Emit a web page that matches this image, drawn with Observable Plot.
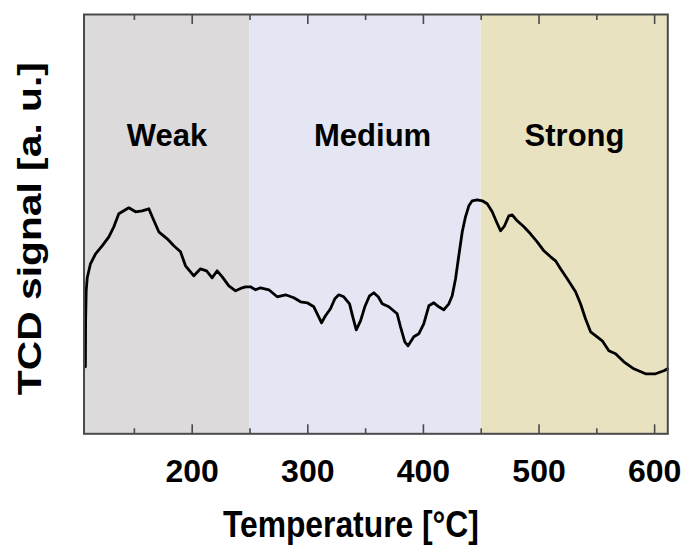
<!DOCTYPE html>
<html>
<head>
<meta charset="utf-8">
<script src="https://cdn.jsdelivr.net/npm/d3@7"></script>
<script src="https://cdn.jsdelivr.net/npm/@observablehq/plot@0.6"></script>
<style>
  html, body { margin: 0; padding: 0; background: #fff; }
</style>
</head>
<body>
<div id="chart"></div>
<script>
// TPD trace: temperature (°C) and TCD signal (arbitrary units)
const temperature = [
  107.6, 107.8, 108.3, 109.2, 112.0, 116.4, 122.1, 127.9, 132.2, 136.5,
  140.8, 145.2, 151.0, 156.7, 162.5, 165.4, 171.1, 178.4, 184.1, 189.9,
  194.2, 201.4, 207.2, 212.4, 217.3, 221.6, 226.0, 231.7, 237.5, 243.3,
  246.1, 250.4, 254.8, 259.1, 266.3, 273.5, 280.7, 287.9, 293.7, 299.5,
  305.2, 309.0, 311.9, 315.3, 319.6, 323.4, 326.8, 331.1, 336.1, 338.9,
  341.9, 345.6, 349.3, 353.4, 357.1, 360.9, 364.4, 370.1, 377.3, 380.2,
  383.9, 386.7, 391.7, 396.0, 400.3, 404.7, 409.0, 413.3, 417.6, 422.0,
  424.9, 427.8, 430.6, 433.6, 436.4, 439.3, 442.2, 446.5, 450.9, 455.2,
  459.5, 463.2, 466.7, 470.2, 473.9, 476.8, 481.1, 486.9, 492.6, 498.4,
  504.2, 510.0, 514.3, 518.6, 524.4, 531.6, 535.9, 540.2, 544.6, 550.3,
  554.7, 560.4, 566.2, 573.4, 582.0, 592.1, 600.8, 608.0, 611.2
];
const signal = [
  67, 113, 143, 156, 170, 180, 188, 197, 207, 220,
  223, 226, 222, 223, 225, 217, 202, 195, 188, 182,
  168, 158, 165, 163, 156, 163, 157, 148, 143, 146,
  147, 147, 144, 146, 144, 137, 139, 136, 132, 131,
  127, 118, 111, 118, 125, 135, 139, 137, 130, 117,
  104, 113, 127, 138, 141, 137, 130, 127, 120, 107,
  92, 88, 97, 100, 110, 128, 131, 127, 124, 130,
  138, 155, 178, 202, 217, 228, 233, 234, 233, 230,
  222, 212, 203, 208, 218, 219, 213, 207, 200, 192,
  183, 177, 173, 165, 155, 142, 130, 115, 102, 97,
  93, 83, 80, 72, 65, 60, 60, 63, 65
];

// Acid-site strength regions
const bandNames = ["Weak", "Medium", "Strong"];
const bandStart = [106.4, 250, 450];
const bandEnd = [250, 450, 611.4];
const bandColors = ["#dcdadb", "#e5e6f4", "#e8e2c0"];

// Axis ticks
const majorTicks = [200, 300, 400, 500, 600];
const minorTicks = [150, 250, 350, 450, 550];

const xTitle = "Temperature [°C]";
const yTitle = "TCD signal [a. u.]";

const curve = temperature.map((t, i) => ({t, s: signal[i]}));
const bands = bandNames.map((name, i) => ({
  name, x1: bandStart[i], x2: bandEnd[i], color: bandColors[i]
}));

const axisColor = "#4a4a4a";

const chart = Plot.plot({
  width: 684,
  height: 547,
  marginLeft: 83.5,
  marginRight: 16.7,
  marginTop: 14,
  marginBottom: 113.7,
  style: {
    fontFamily: "'Liberation Sans', Arial, Helvetica, sans-serif",
    fontWeight: "bold",
    background: "#fff",
    color: "#000"
  },
  x: {domain: [bandStart[0], bandEnd[2]]},
  y: {domain: [0, 419.3], axis: null},
  color: {type: "identity"},
  marks: [
    Plot.rect(bands, {x1: "x1", x2: "x2", fill: "color"}),
    Plot.text(bands, {
      x: d => (d.x1 + d.x2) / 2, text: "name",
      frameAnchor: "top", lineAnchor: "top", dy: 109, fontSize: 31, fill: "#000"
    }),
    Plot.line(curve, {x: "t", y: "s", stroke: "#000", strokeWidth: 2.8, strokeLinejoin: "round", strokeLinecap: "round"}),
    // inward ticks, bottom and top
    Plot.axisX(majorTicks, {anchor: "bottom", tickSize: -9, fill: "none", stroke: axisColor, strokeWidth: 1.6, label: null}),
    Plot.axisX(minorTicks, {anchor: "bottom", tickSize: -5, fill: "none", stroke: axisColor, strokeWidth: 1.6, label: null}),
    Plot.axisX(majorTicks, {anchor: "top", tickSize: -9, fill: "none", stroke: axisColor, strokeWidth: 1.6, label: null}),
    Plot.axisX(minorTicks, {anchor: "top", tickSize: -5, fill: "none", stroke: axisColor, strokeWidth: 1.6, label: null}),
    // tick labels
    Plot.axisX(majorTicks, {anchor: "bottom", tickSize: 0, tickPadding: 25, fontSize: 32, fill: "#000", label: null}),
    Plot.frame({stroke: axisColor, strokeWidth: 2}),
    Plot.text([xTitle], {text: d => d, frameAnchor: "bottom", lineAnchor: "top", dy: 78, dx: -25, fontSize: 36, fill: "#000"}),
    Plot.text([yTitle], {text: d => d, frameAnchor: "left", textAnchor: "start", rotate: -90, dx: -54, dy: 171, fontSize: 33, fill: "#000"})
  ]
});

// Fit the axis titles to their drawn lengths; nudge the Medium label right
chart.querySelectorAll("text").forEach(el => {
  const s = el.textContent;
  if (s === "Medium") el.setAttribute("x", +(el.getAttribute("x") || 0) + 7);
  if (s === xTitle) { el.setAttribute("textLength", 256); el.setAttribute("lengthAdjust", "spacingAndGlyphs"); }
  if (s === yTitle) { el.setAttribute("textLength", 333); el.setAttribute("lengthAdjust", "spacingAndGlyphs"); }
});

document.getElementById("chart").appendChild(chart);
</script>
</body>
</html>
